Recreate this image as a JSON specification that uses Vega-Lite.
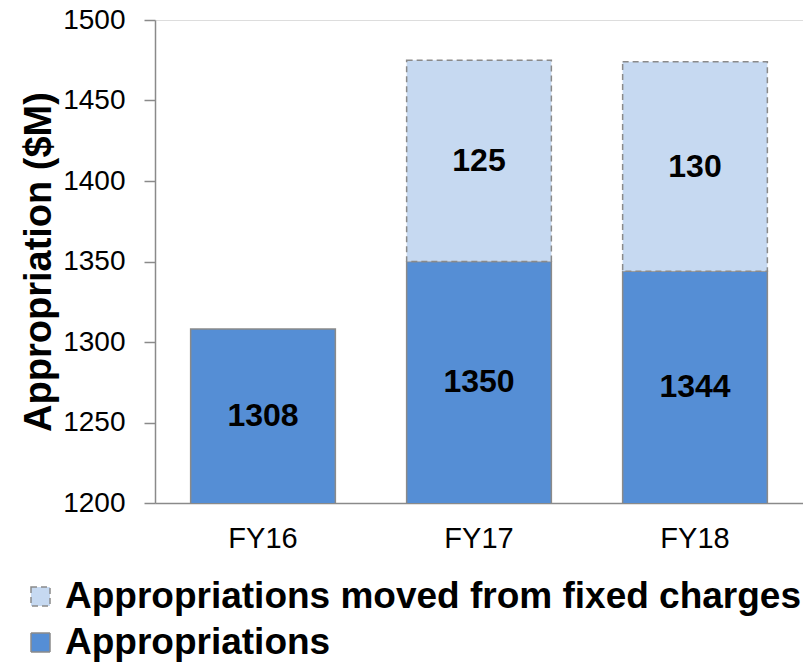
{
  "$schema": "https://vega.github.io/schema/vega-lite/v6.json",
  "width": 648,
  "height": 483,
  "autosize": "none",
  "padding": {"left": 155, "top": 20, "right": 0, "bottom": 160},
  "background": "white",
  "data": {
    "values": [
      {"fy": "FY16", "series": "Appropriations", "ord": 1, "value": 1308},
      {"fy": "FY17", "series": "Appropriations", "ord": 1, "value": 1350},
      {"fy": "FY17", "series": "Appropriations moved from fixed charges", "ord": 2, "value": 125},
      {"fy": "FY18", "series": "Appropriations", "ord": 1, "value": 1344},
      {"fy": "FY18", "series": "Appropriations moved from fixed charges", "ord": 2, "value": 130}
    ]
  },
  "transform": [
    {"stack": "value", "groupby": ["fy"], "sort": [{"field": "ord", "order": "ascending"}], "as": ["v0", "v1"]},
    {"calculate": "(max(datum.v0, 1200) + datum.v1) / 2", "as": "mid"}
  ],
  "encoding": {
    "x": {
      "field": "fy", "type": "nominal", "title": null,
      "scale": {"paddingInner": 0.33, "paddingOuter": 0.165},
      "axis": {"labelAngle": 0, "ticks": false, "labelPadding": 21, "labelFontSize": 29, "labelFont": "Liberation Sans", "labelColor": "#000000", "domainColor": "#8a8a8a", "domainWidth": 1.5}
    }
  },
  "layer": [
    {
      "mark": {"type": "bar", "clip": true, "stroke": "#8a8a8a", "strokeWidth": 1.5},
      "encoding": {
        "y": {
          "field": "v1", "type": "quantitative",
          "scale": {"domain": [1200, 1500], "zero": false, "nice": false},
          "title": "Appropriation ($M)",
          "axis": {"values": [1200, 1250, 1300, 1350, 1400, 1450, 1500], "format": "d", "grid": false, "tickSize": 11, "tickColor": "#8a8a8a", "tickWidth": 1.5, "domainColor": "#8a8a8a", "domainWidth": 1.5, "labelPadding": 19, "labelFontSize": 28, "labelFont": "Liberation Sans", "labelColor": "#000000", "titleFont": "Liberation Sans", "titleFontSize": 38, "titleFontWeight": "bold", "titleColor": "#000000", "titlePadding": 4}
        },
        "y2": {"field": "v0"},
        "color": {
          "field": "series", "type": "nominal", "title": null,
          "scale": {"domain": ["Appropriations moved from fixed charges", "Appropriations"], "range": ["#C6D9F1", "#558ED5"]},
          "legend": {"orient": "none", "legendX": -133, "legendY": 558, "direction": "vertical", "symbolType": "square", "symbolSize": 361, "symbolStrokeColor": "#8a8a8a", "symbolStrokeWidth": 1.5, "labelFontSize": 37, "labelFont": "Liberation Sans", "labelFontWeight": "bold", "labelColor": "#000000", "labelOffset": 6, "rowPadding": 8, "labelLimit": 800}
        },
        "strokeDash": {
          "field": "series", "type": "nominal", "title": null,
          "scale": {"domain": ["Appropriations moved from fixed charges", "Appropriations"], "range": [[6, 4], [1, 0]]}
        }
      }
    },
    {
      "mark": {"type": "text", "fontSize": 32, "fontWeight": "bold", "font": "Liberation Sans", "color": "#000000", "baseline": "middle"},
      "encoding": {
        "y": {"field": "mid", "type": "quantitative"},
        "text": {"field": "value", "type": "quantitative"}
      }
    }
  ]
}
